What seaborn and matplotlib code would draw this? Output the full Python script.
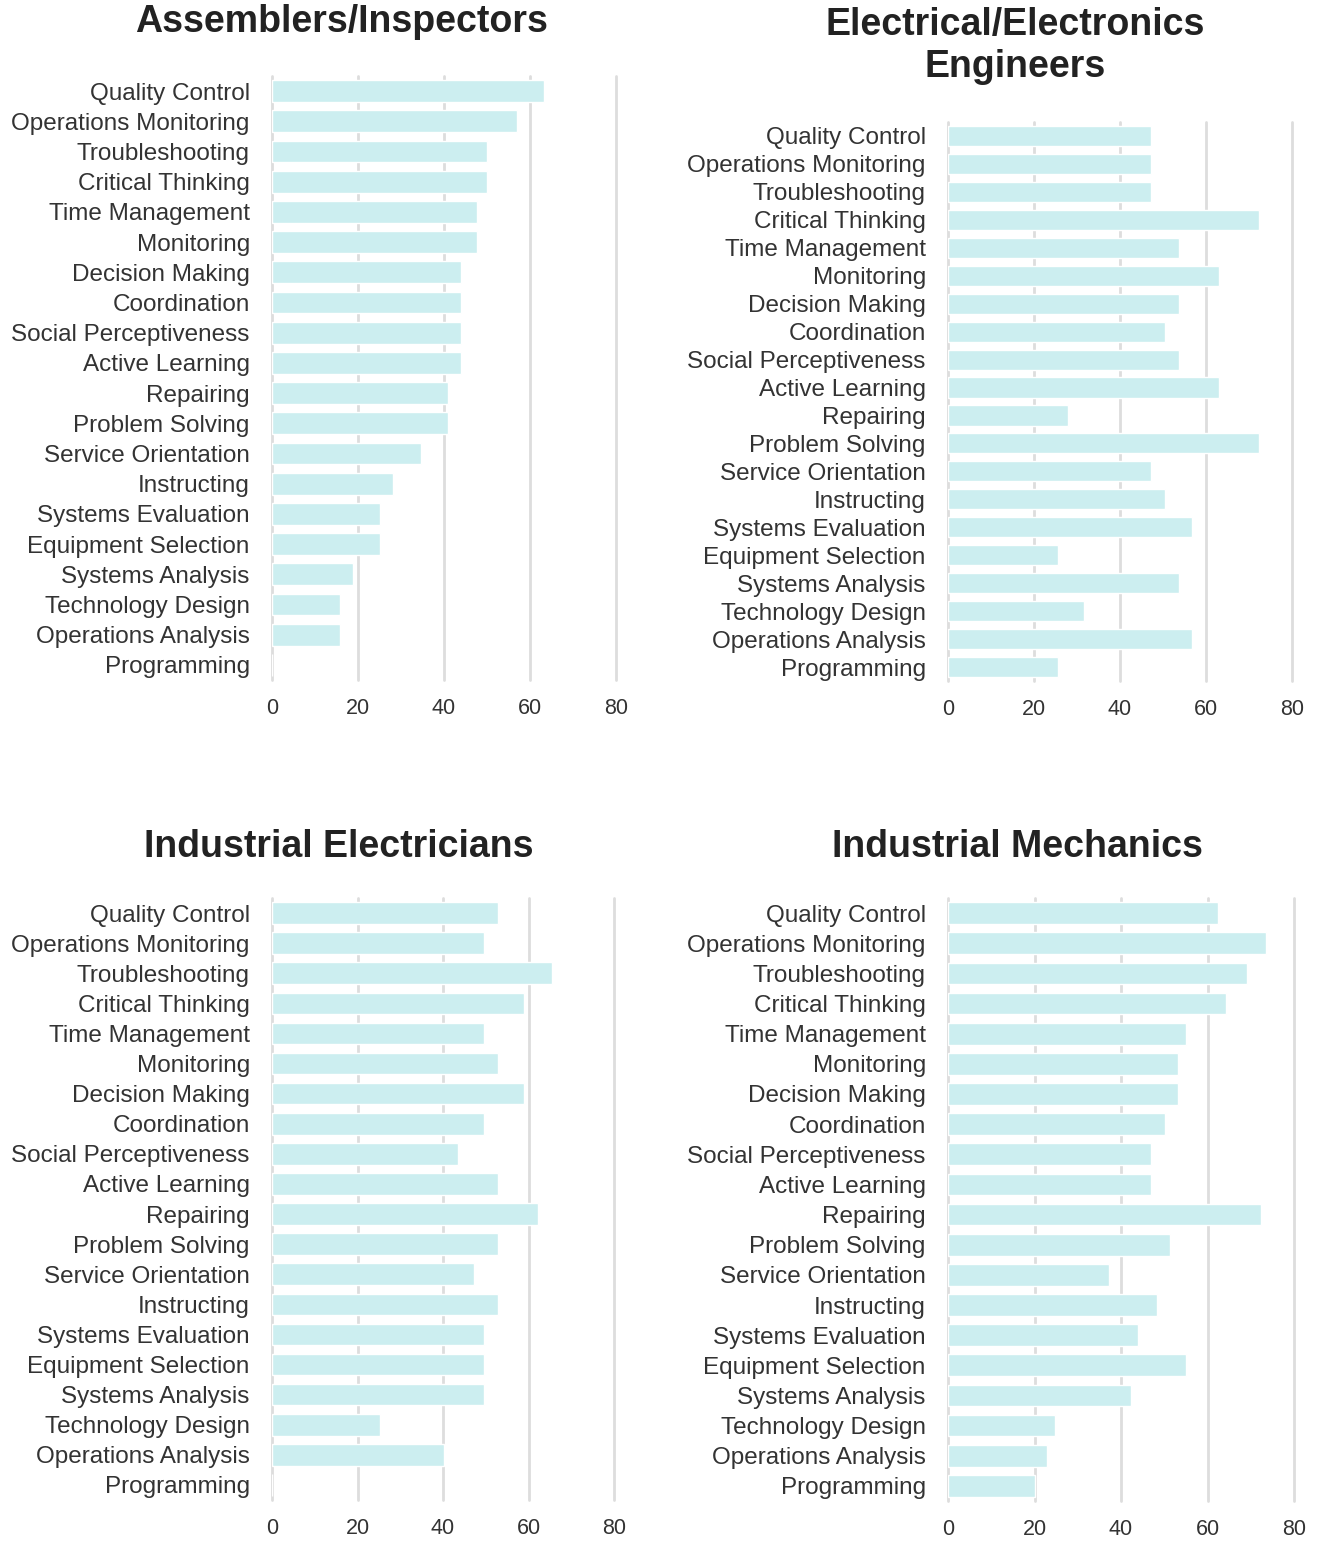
import matplotlib
matplotlib.use("Agg")
import matplotlib.pyplot as plt
import seaborn as sns
import pandas as pd

skills = ["Quality Control", "Operations Monitoring", "Troubleshooting", "Critical Thinking",
          "Time Management", "Monitoring", "Decision Making", "Coordination",
          "Social Perceptiveness", "Active Learning", "Repairing", "Problem Solving",
          "Service Orientation", "Instructing", "Systems Evaluation", "Equipment Selection",
          "Systems Analysis", "Technology Design", "Operations Analysis", "Programming"]

assemblers = [63.3, 57.0, 50.0, 50.0, 47.6, 47.6, 43.9, 43.9, 43.9, 43.9,
              40.9, 40.9, 34.6, 28.2, 25.2, 25.2, 18.9, 15.9, 15.9, 0]
engineers = [47.3, 47.3, 47.3, 72.4, 53.7, 63.0, 53.7, 50.4, 53.7, 63.0,
             27.9, 72.4, 47.3, 50.4, 56.7, 25.5, 53.7, 31.6, 56.7, 25.5]
electricians = [52.9, 49.6, 65.4, 59.0, 49.6, 52.9, 59.0, 49.6, 43.5, 52.9,
                62.3, 52.9, 47.3, 52.9, 49.6, 49.6, 49.6, 25.3, 40.2, 0]
mechanics = [62.5, 73.6, 69.2, 64.3, 55.1, 53.2, 53.2, 50.2, 47.0, 47.0,
             72.4, 51.4, 37.3, 48.4, 44.0, 55.1, 42.2, 24.8, 23.0, 20.0]

titles = ["Assemblers/Inspectors", "Electrical/Electronics\nEngineers",
          "Industrial Electricians", "Industrial Mechanics"]
series = [assemblers, engineers, electricians, mechanics]
xticks = [0, 20, 40, 60, 80]

sns.set_style("white")
plt.rcParams["font.family"] = ["Liberation Sans", "DejaVu Sans"]

W, H = 1322, 1542
fig = plt.figure(figsize=(W / 100, H / 100), dpi=100)

# axes boxes in pixels: left, top, right, bottom
boxes = [(272, 76, 616, 680), (948, 122, 1292, 681),
         (272, 898, 614, 1500), (948, 898, 1294, 1501)]
title_pos = [(341, 22), (1015, 46), (339, 847), (1017, 847)]

bar_color = "#cceef0"
text_color = "#333333"

for vals, title, box, tp in zip(series, titles, boxes, title_pos):
    l, t, r, b = box
    ax = fig.add_axes([l / W, 1 - b / H, (r - l) / W, (b - t) / H])
    df = pd.DataFrame({"skill": skills, "value": vals})
    sns.barplot(data=df, x="value", y="skill", orient="h", color=bar_color,
                width=0.72, ax=ax, saturation=1)
    ax.set_xlim(0, 80)
    ax.set_ylim(len(skills) - 0.5, -0.5)
    ax.set_xticks(xticks)
    ax.set_xticklabels([str(v) for v in xticks])
    ax.set_xlabel("")
    ax.set_ylabel("")
    ax.grid(axis="x", color="#dddddd", linewidth=2)
    ax.grid(axis="y", visible=False)
    ax.set_axisbelow(True)
    for s in ax.spines.values():
        s.set_visible(False)
    ax.tick_params(axis="x", length=0, pad=13, labelsize=15.5, labelcolor=text_color)
    ax.tick_params(axis="y", length=0, pad=16, labelsize=17.5, labelcolor=text_color)
    for gl in ax.get_xgridlines():
        gl.set_clip_on(False)
    fig.text(tp[0] / W, 1 - tp[1] / H, title, ha="center", va="center",
             fontsize=27, fontweight="bold", color="#222222", linespacing=1.2)

fig.savefig("out.png", dpi=100)
